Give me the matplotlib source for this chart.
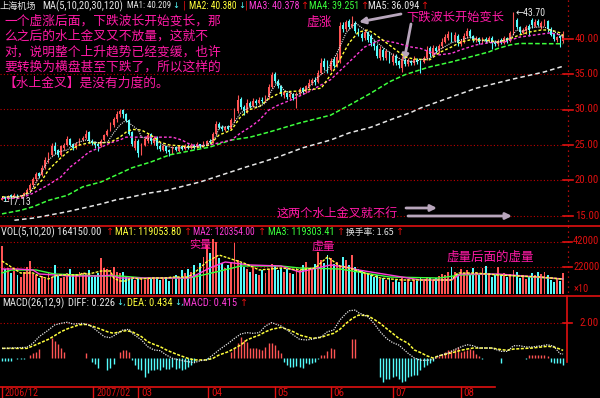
import matplotlib
matplotlib.use("Agg")
import matplotlib.pyplot as plt
from matplotlib import font_manager
from matplotlib.lines import Line2D
import numpy as np

W, H = 600, 398

# ------------------------------------------------------------------ data
open_ = [17.3, 17.7, 17.4, 17.9, 17.7, 18.0, 17.8, 17.9, 18.2, 18.6,
         19.3, 20.2, 21.0, 20.8, 21.9, 22.9, 23.6, 24.9, 24.3, 23.6,
         24.6, 25.0, 25.8, 25.1, 24.7, 25.2, 25.7, 26.0, 26.8, 25.6,
         25.3, 25.1, 24.9, 25.7, 26.4, 27.1, 27.8, 28.6, 29.3, 29.9,
         29.3, 28.5, 26.8, 24.6, 25.5, 23.9, 25.0, 25.5, 26.6, 25.3,
         26.0, 24.9, 24.3, 24.8, 24.3, 24.0, 24.7, 24.2, 24.8, 24.4,
         24.9, 24.6, 25.0, 24.7, 25.1, 24.8, 25.2, 25.6, 25.4, 26.6,
         28.0, 27.6, 27.1, 27.6, 27.3, 28.5, 29.8, 31.5, 30.4, 29.7,
         30.9, 30.5, 31.2, 30.9, 31.4, 31.2, 31.7, 33.2, 35.0, 34.0,
         33.3, 32.0, 32.3, 31.8, 32.2, 31.4, 32.3, 33.0, 32.5, 33.1,
         33.8, 34.2, 33.9, 35.2, 36.8, 36.4, 35.6, 37.0, 36.2, 36.9,
         41.9, 41.4, 42.4, 41.7, 42.2, 41.2, 40.6, 40.1, 40.9, 40.3,
         39.4, 38.9, 37.3, 38.4, 37.2, 38.0, 36.7, 37.5, 36.8, 35.9,
         36.9, 36.4, 36.8, 36.5, 37.0, 36.8, 36.7, 37.2, 38.6, 37.7,
         38.7, 38.2, 38.9, 39.5, 40.1, 40.7, 39.7, 40.4, 39.2, 39.5,
         40.3, 41.0, 40.3, 39.8, 40.0, 39.5, 39.9, 39.7, 40.1, 39.5,
         39.2, 39.8, 39.4, 40.1, 39.7, 40.7, 42.6, 41.6, 40.8, 41.0,
         41.7, 42.6, 41.8, 42.5, 41.6, 42.0, 42.4, 41.4, 40.6, 39.8, 40.3, 39.6]
high = [17.8, 17.8, 17.9, 18.1, 18.2, 18.1, 18.0, 18.4, 18.9, 19.6,
        20.5, 21.2, 21.2, 22.2, 23.3, 24.0, 25.3, 25.4, 24.5, 25.0,
        25.3, 26.2, 26.0, 25.3, 25.4, 26.0, 26.3, 27.1, 26.9, 25.9,
        25.6, 25.3, 25.8, 26.6, 27.3, 28.2, 28.9, 29.8, 30.1, 30.0,
        29.5, 28.7, 27.0, 26.0, 25.8, 25.3, 26.1, 26.7, 26.7, 26.2,
        26.3, 25.1, 25.1, 24.9, 24.4, 24.8, 24.9, 25.0, 25.0, 25.2,
        25.1, 25.3, 25.1, 25.4, 25.2, 25.5, 25.7, 25.8, 26.8, 28.4,
        28.3, 27.8, 27.7, 27.8, 28.8, 30.2, 32.0, 31.7, 30.6, 31.5,
        31.2, 31.6, 31.5, 31.7, 31.7, 32.0, 33.6, 35.3, 35.3, 34.3,
        33.5, 32.6, 32.5, 32.6, 32.3, 32.5, 33.2, 33.1, 33.5, 34.3,
        34.5, 34.6, 35.6, 37.2, 37.2, 36.9, 37.2, 37.4, 38.0, 42.3,
        42.3, 42.6, 42.8, 43.2, 42.4, 41.5, 40.9, 41.3, 41.1, 40.6,
        39.8, 39.2, 38.9, 38.6, 38.5, 38.2, 37.9, 37.8, 37.0, 37.5,
        37.2, 37.3, 37.0, 37.5, 37.2, 37.0, 37.6, 38.9, 39.0, 39.1,
        38.9, 39.2, 40.0, 40.6, 41.1, 40.9, 40.9, 40.6, 39.9, 40.8,
        41.5, 41.3, 40.5, 40.3, 40.2, 40.2, 40.2, 40.4, 40.3, 39.8,
        39.9, 40.0, 40.3, 40.2, 41.1, 43.7, 42.9, 41.8, 41.5, 41.9,
        42.0, 42.9, 42.7, 42.7, 42.5, 42.8, 42.6, 41.6, 40.8, 40.4, 40.5, 41.1]
low = [17.2, 17.13, 17.3, 17.6, 17.6, 17.7, 17.6, 17.8, 18.1, 18.5,
       19.1, 19.9, 20.3, 20.6, 21.6, 22.5, 23.4, 23.8, 23.3, 23.4,
       24.3, 24.8, 24.8, 24.3, 24.5, 25.0, 25.5, 25.8, 25.3, 25.0,
       24.6, 24.2, 24.7, 25.5, 26.2, 26.9, 27.5, 28.3, 29.0, 28.8,
       28.2, 26.4, 24.9, 24.3, 23.3, 23.6, 24.8, 25.3, 25.2, 25.0,
       24.5, 24.1, 24.1, 23.9, 23.5, 23.8, 24.1, 24.0, 24.3, 24.3,
       24.4, 24.5, 24.5, 24.6, 24.6, 24.7, 25.0, 25.2, 25.3, 26.4,
       27.3, 26.9, 27.0, 27.1, 27.2, 28.3, 29.5, 30.1, 29.2, 29.5,
       30.2, 30.3, 30.6, 30.8, 30.9, 31.0, 31.5, 33.0, 33.7, 33.0,
       31.9, 31.6, 31.5, 31.5, 31.3, 30.2, 32.1, 32.2, 32.3, 32.9,
       33.5, 33.5, 33.8, 35.0, 35.6, 35.1, 35.4, 35.9, 36.0, 36.5,
       40.9, 41.0, 41.3, 41.5, 40.8, 40.4, 39.6, 39.8, 39.5, 38.9,
       38.4, 37.3, 37.0, 37.0, 36.9, 36.5, 36.3, 36.3, 35.8, 35.3,
       36.1, 36.1, 36.3, 36.3, 36.4, 35.1, 36.5, 37.0, 37.4, 37.5,
       37.9, 38.0, 38.7, 39.3, 39.8, 39.5, 39.5, 38.9, 39.0, 39.3,
       40.0, 40.1, 39.5, 39.5, 39.2, 39.4, 39.3, 39.5, 38.5, 38.9,
       38.9, 39.2, 39.2, 39.4, 39.5, 40.5, 41.3, 40.6, 40.6, 40.7,
       40.3, 41.5, 41.6, 41.7, 41.4, 41.8, 40.9, 40.3, 39.6, 39.5, 38.8, 39.4]
close = [17.6, 17.4, 17.8, 17.7, 18.0, 17.8, 17.9, 18.2, 18.6, 19.3,
         20.2, 20.9, 20.6, 21.8, 22.9, 23.6, 24.8, 24.1, 23.6, 24.8,
         25.0, 25.9, 25.0, 24.6, 25.2, 25.8, 26.0, 26.6, 25.5, 25.3,
         25.0, 24.8, 25.6, 26.4, 27.0, 27.8, 28.6, 29.4, 29.8, 29.3,
         28.5, 26.6, 25.1, 25.6, 23.9, 25.0, 25.8, 26.4, 25.5, 26.0,
         24.8, 24.4, 24.9, 24.2, 24.0, 24.6, 24.3, 24.8, 24.5, 24.9,
         24.6, 25.0, 24.7, 25.1, 24.8, 25.2, 25.5, 25.4, 26.6, 28.0,
         27.6, 27.2, 27.5, 27.3, 28.5, 29.8, 31.4, 30.3, 29.8, 30.9,
         30.5, 31.2, 30.9, 31.4, 31.2, 31.6, 33.2, 34.8, 34.0, 33.3,
         32.2, 32.4, 31.8, 32.2, 31.6, 32.3, 32.9, 32.5, 33.3, 33.8,
         34.1, 33.9, 35.2, 36.6, 36.0, 35.6, 36.8, 36.1, 37.4, 41.8,
         41.3, 42.3, 41.6, 42.0, 41.0, 40.8, 40.0, 40.9, 39.8, 39.3,
         38.9, 37.6, 38.5, 37.4, 38.2, 36.8, 37.6, 36.6, 36.2, 36.9,
         36.4, 36.9, 36.5, 37.1, 36.7, 36.6, 37.3, 38.2, 37.8, 38.6,
         38.3, 38.9, 39.5, 40.2, 40.6, 39.8, 40.5, 39.3, 39.6, 40.3,
         41.0, 40.4, 39.8, 40.0, 39.5, 39.9, 39.7, 40.1, 39.4, 39.2,
         39.7, 39.4, 40.0, 39.6, 40.8, 42.5, 41.6, 40.9, 41.2, 41.6,
         41.2, 41.9, 42.3, 41.9, 42.2, 42.5, 41.3, 40.5, 39.9, 40.2, 40.0, 40.45]
# volume in thousands of lots (axis labels are x10)
volume_k = [384, 200, 208, 170, 181, 150, 140, 175, 215, 265,
            160, 150, 130, 145, 120, 165, 140, 230, 150, 130,
            140, 170, 200, 150, 160, 175, 170, 165, 190, 140,
            150, 170, 288, 210, 200, 190, 220, 175, 165, 180,
            140, 130, 120, 110, 135, 125, 115, 140, 130, 120,
            135, 110, 125, 140, 105, 120, 150, 130, 190, 170,
            200, 180, 230, 160, 250, 300, 392, 330, 440, 420,
            290, 250, 210, 230, 260, 408, 270, 248, 220, 200,
            180, 210, 160, 150, 190, 170, 200, 240, 230, 190,
            210, 180, 200, 170, 160, 215, 190, 230, 260, 210,
            200, 240, 336, 272, 250, 312, 290, 240, 260, 220,
            300, 272, 230, 312, 220, 200, 190, 170, 160, 150,
            140, 150, 120, 130, 110, 125, 100, 115, 95, 140,
            100, 120, 95, 110, 105, 130, 120, 140, 125, 110,
            130, 145, 160, 150, 175, 216, 180, 160, 200, 170,
            190, 150, 210, 180, 150, 208, 224, 170, 140, 160,
            216, 150, 170, 140, 160, 190, 180, 130, 150, 120,
            140, 170, 150, 180, 160, 175, 150, 110, 95, 120, 106, 164.15]
macd_hist = [-0.15, -0.15, -0.15, -0.15, 0, -0.05, -0.05, -0.05, 0, 0.17,
             0.27, 0.36, 0.5, 0, 0, 0, 1.13, 1.0, 0.8, 0.6,
             0.33, 0, 0, 0, 0, 0, 0, 0.3, 0, -0.22,
             -0.32, -0.57, 0, 0, -0.7, -0.55, -0.36, 0, 0.33, 0.47,
             0.47, 0.33, -0.1, -0.4, -0.6, -0.7, -1.1, -0.88, -0.7, -0.7,
             -0.6, -0.7, -0.53, -0.6, -0.65, -0.5, -0.6, -0.55, -0.7, -0.6,
             -0.5, -0.4, -0.2, 0, 0, 0, -0.05, -0.05, 0, 0,
             0, 0, 0, 0, 0.36, 0.55, 0.84, 1.22, 1.03, 0.93,
             0.55, 0.55, 0.55, 0.5, 0.46, 0.65, 0.84, 0.88, 0.74, 0.46,
             0.27, -0.21, -0.4, -0.5, -0.53, -0.46, -0.5, -0.59, -0.3, -0.34,
             -0.3, -0.21, -0.06, 0.17, 0.17, 0.4, 0.55, 0.5, 0, 0,
             0, 0, 0, 1.07, 1.07, 0, 0, 0, 0, 0,
             0, 0, -1.1, -1.35, -1.22, -1.22, -1.1, -1.03, -1.22, -1.35,
             -1.29, -1.1, -1.03, -0.97, -0.97, -0.69, -0.53, -0.4, -0.3, -0.15,
             0.06, 0.11, 0.25, 0.34, 0.44, 0.44, 0.53, 0.63, 0.34, 0.4,
             0.44, 0.53, 0.44, 0.25, 0.1, -0.05, 0, 0, 0, 0,
             0, -0.3, 0, 0, 0, 0, 0, 0, 0, -0.03,
             0.15, 0.15, 0.15, 0.17, 0.15, 0.15, 0.12, -0.2, -0.3, -0.3, -0.3, -0.415]

# moving-average lines (day index, value)
ma5_idx = [0, 6, 9, 12, 15, 18, 21, 24, 27, 31, 34, 36, 38, 40, 41, 44, 45, 49, 52, 55,
           58, 63, 66, 69, 70, 74, 77, 80, 83, 85, 87, 89, 91, 95, 98, 102, 105, 108, 111, 114,
           117, 120, 123, 126, 129, 133, 135, 138, 141, 145, 148, 151, 154, 157, 160, 164, 166, 168, 171, 175,
           178, 181]
ma5_val = [17.6, 17.8, 18.2, 20.5, 22.9, 24.0, 24.3, 25.3, 25.7, 25.3, 25.4, 26.7, 27.8, 28.5, 28.1, 27.1, 26.1, 25.7, 25.0, 24.6,
           24.6, 24.8, 25.0, 26.1, 27.5, 27.6, 29.5, 30.4, 30.4, 30.9, 32.7, 33.9, 32.7, 32.0, 32.7, 34.6, 35.6, 37.9, 40.8, 42.2,
           41.2, 39.8, 38.7, 37.7, 37.0, 36.7, 37.0, 37.2, 38.4, 39.4, 39.8, 40.2, 39.8, 39.5, 39.5, 40.0, 41.2, 41.0, 41.6, 41.6,
           41.0, 40.2]
ma10_idx = [0, 6, 10, 13, 15, 19, 22, 25, 28, 32, 35, 38, 40, 42, 45, 48, 51, 54, 57, 61,
            64, 67, 70, 74, 77, 80, 83, 86, 89, 91, 96, 103, 107, 112, 115, 118, 120, 124, 127, 130,
            133, 138, 141, 145, 148, 151, 154, 157, 160, 164, 167, 170, 174, 177, 180, 181]
ma10_val = [17.7, 17.7, 18.7, 20.1, 21.5, 23.2, 24.3, 25.0, 25.3, 25.3, 25.4, 26.1, 26.8, 27.2, 27.1, 26.4, 25.4, 25.0, 24.9, 24.7,
            24.7, 25.0, 26.4, 27.1, 29.0, 30.0, 30.4, 31.5, 32.2, 32.5, 32.6, 33.0, 35.5, 39.4, 40.9, 41.2, 40.7, 39.4, 38.4, 37.4,
            37.1, 37.0, 38.0, 38.8, 39.5, 39.8, 39.8, 39.7, 39.5, 40.0, 40.5, 40.9, 41.2, 41.2, 40.8, 40.4]
ma20_idx = [0, 6, 10, 15, 19, 22, 25, 28, 32, 35, 38, 40, 45, 55, 58, 61, 64, 67, 70, 74,
            77, 80, 83, 86, 89, 93, 99, 106, 112, 117, 122, 127, 132, 135, 138, 141, 145, 148, 153, 157,
            162, 167, 172, 177, 181]
ma20_val = [17.5, 17.5, 18.2, 19.4, 20.5, 21.9, 22.9, 24.0, 24.7, 25.3, 25.7, 26.1, 26.1, 26.1, 25.7, 25.0, 24.9, 25.0, 25.3, 25.7,
            26.7, 27.5, 28.5, 29.9, 30.6, 31.3, 32.5, 34.2, 36.7, 38.8, 39.8, 39.4, 38.8, 38.6, 38.1, 37.7, 37.9, 38.4, 39.1, 39.4,
            39.5, 40.2, 40.5, 40.8, 40.4]
ma30_idx = [0, 6, 10, 15, 21, 26, 32, 37, 42, 48, 54, 61, 67, 74, 80, 86, 96, 106, 112, 119,
            125, 130, 135, 138, 145, 151, 157, 160, 164, 167, 181]
ma30_val = [15.3, 15.8, 16.3, 17.2, 17.9, 19.1, 19.8, 20.8, 21.8, 22.6, 23.6, 24.2, 24.7, 25.7, 26.1, 26.8, 28.1, 29.2, 30.6, 32.3,
            33.9, 34.9, 35.6, 36.0, 36.7, 37.4, 38.1, 38.6, 39.1, 39.3, 39.25]
ma120_idx = [4, 10, 15, 21, 26, 32, 37, 42, 47, 53, 64, 78, 84, 89, 97, 106, 112, 119, 125, 132,
             135, 142, 153, 164, 175, 181]
ma120_val = [14.4, 14.7, 15.1, 15.6, 16.1, 16.7, 17.3, 17.7, 18.2, 18.6, 19.8, 21.8, 22.6, 23.3, 24.6, 25.7, 26.7, 27.5, 28.5, 29.6,
             30.2, 31.3, 33.0, 34.2, 35.3, 36.09]

vma5_idx = [0, 4, 6, 10, 12, 15, 17, 19, 25, 26, 28, 32, 35, 36, 38, 40, 42, 45, 49, 53,
            55, 60, 62, 66, 70, 75, 78, 83, 90, 96, 101, 105, 109, 112, 117, 122, 129, 138, 145, 147,
            153, 160, 167, 174, 181]
vma5_val = [264, 200, 168, 168, 144, 120, 144, 152, 152, 168, 160, 184, 184, 128, 104, 104, 128, 120, 128, 128,
            136, 136, 168, 256, 312, 272, 248, 192, 208, 192, 208, 296, 224, 208, 168, 128, 112, 112, 112, 168,
            168, 152, 144, 136, 119.05]
vma10_idx = [0, 5, 10, 12, 17, 22, 32, 35, 38, 45, 48, 60, 62, 67, 72, 80, 90, 96, 106, 111,
             115, 125, 135, 145, 148, 160, 181]
vma10_val = [200, 200, 192, 160, 152, 144, 144, 150, 128, 128, 128, 128, 144, 208, 256, 232, 224, 176, 232, 216,
             192, 152, 112, 112, 160, 160, 120.35]
vma20_idx = [0, 3, 11, 17, 32, 38, 46, 60, 62, 69, 77, 90, 96, 109, 115, 125, 141, 148, 157, 181]
vma20_val = [168, 192, 192, 160, 144, 144, 128, 128, 136, 176, 224, 224, 208, 200, 176, 136, 128, 152, 160, 119.3]

dif_idx = [0, 8, 10, 12, 15, 17, 19, 21, 23, 26, 28, 29, 31, 33, 35, 37, 39, 41, 42, 45,
           47, 49, 51, 53, 55, 57, 60, 62, 64, 66, 68, 70, 73, 75, 77, 79, 81, 83, 85, 87,
           90, 92, 94, 96, 98, 100, 103, 105, 107, 109, 111, 112, 114, 115, 118, 120, 122, 124, 126, 128,
           131, 133, 135, 137, 139, 141, 144, 146, 148, 150, 152, 154, 156, 158, 161, 163, 165, 167, 169, 171,
           174, 176, 178, 180, 181]
dif_val = [0.55, 0.61, 0.84, 1.22, 1.6, 1.89, 1.98, 2.04, 1.94, 1.98, 1.89, 1.79, 1.5, 1.22, 1.16, 1.37, 1.6, 1.64, 1.41, 1.03,
           0.65, 0.46, 0.42, 0.17, -0.02, -0.11, -0.21, -0.27, -0.15, -0.11, 0.17, 0.46, 0.84, 1.12, 1.37, 1.45, 1.41, 1.45, 1.83, 2.02,
           1.83, 1.6, 1.31, 1.07, 1.03, 1.07, 1.22, 1.5, 1.6, 2.17, 2.55, 2.7, 2.74, 2.59, 2.36, 1.98, 1.5, 1.12, 0.88, 0.74,
           0.27, 0.0, -0.13, -0.13, -0.09, 0.13, 0.29, 0.48, 0.63, 0.76, 0.7, 0.57, 0.57, 0.57, 0.38, 0.38, 0.7, 0.7, 0.63, 0.63,
           0.7, 0.76, 0.67, 0.25, 0.226]
dea_idx = [0, 8, 10, 12, 15, 17, 19, 21, 23, 25, 27, 29, 32, 34, 36, 38, 40, 42, 45, 47,
           49, 51, 53, 55, 57, 60, 62, 66, 68, 70, 73, 75, 77, 79, 81, 83, 85, 87, 90, 92,
           94, 96, 98, 100, 103, 105, 107, 109, 111, 113, 115, 118, 120, 122, 124, 126, 128, 131, 133, 135,
           137, 139, 141, 144, 146, 148, 150, 152, 158, 161, 163, 165, 171, 174, 176, 178, 180, 181]
dea_val = [0.55, 0.55, 0.69, 0.84, 1.07, 1.28, 1.5, 1.66, 1.79, 1.9, 1.92, 1.83, 1.64, 1.5, 1.41, 1.5, 1.56, 1.5, 1.22, 0.93,
           0.78, 0.65, 0.46, 0.31, 0.17, -0.02, -0.11, -0.11, -0.02, 0.17, 0.36, 0.55, 0.74, 1.03, 1.18, 1.31, 1.5, 1.64, 1.75, 1.64,
           1.5, 1.31, 1.22, 1.12, 1.18, 1.31, 1.41, 1.64, 1.98, 2.26, 2.45, 2.42, 2.21, 1.98, 1.69, 1.41, 1.12, 0.84, 0.46, 0.31,
           0.13, 0.0, 0.13, 0.25, 0.34, 0.44, 0.51, 0.57, 0.57, 0.48, 0.44, 0.51, 0.57, 0.63, 0.67, 0.63, 0.51, 0.434]

date_idx = [0, 29.5, 44, 66.5, 88, 106, 126, 148]
date_labels = ["2006/12", "2007/02", "03", "04", "05", "06", "07", "08"]
price_ticks = [40, 35, 30, 25, 20, 15]
vol_ticks_k = [420, 220]
vol_tick_labels = ["42000", "22000"]
macd_ticks = [2.0]

# ------------------------------------------------------------------ fonts
fl = font_manager.fontManager.ttflist
names = {f.name for f in fl}
LAT, STRETCH = None, 'normal'
for cand in ['Liberation Sans Narrow', 'DejaVu Sans Condensed', 'Roboto Condensed',
             'Open Sans Condensed', 'Noto Sans Condensed', 'Arial Narrow']:
    if cand in names:
        LAT = cand
        break
if LAT is None:
    for fam in ['DejaVu Sans', 'Noto Sans', 'Open Sans', 'Roboto']:
        if any(f.name == fam and str(f.stretch) in ('condensed', 'semi-condensed', '87', '75')
               and f.style == 'normal' for f in fl):
            LAT, STRETCH = fam, 'condensed'
            break
if LAT is None:
    LAT = 'Liberation Sans' if 'Liberation Sans' in names else 'DejaVu Sans'
CJK = 'Noto Sans CJK SC'

RED = '#FF5454'
CYAN = '#54FCFC'
AXRED = '#E01010'
YEL = '#FFFF3C'
MAG = '#FF3CD8'
GRN = '#3CFF3C'
WHT = '#E6E6E6'
PINK = '#FF1AA6'
ARW = '#B8A6BC'

fig = plt.figure(figsize=(6, 3.98), dpi=100, facecolor='black')
renderer = fig.canvas.get_renderer()
XL = (-0.645, 181.94)


def add_ax(x0, y0, x1, y1):
    ax = fig.add_axes([x0 / W, 1 - y1 / H, (x1 - x0) / W, (y1 - y0) / H])
    ax.set_facecolor('black')
    ax.set_axis_off()
    ax.set_xlim(*XL)
    return ax


def txt(x, y, s, color, size=7.6, family=None, ha='left', va='center', width=None, **kw):
    if family is None:
        fam = [LAT, 'DejaVu Sans']
        kw.setdefault('fontstretch', STRETCH)
    else:
        fam = family
    t = fig.text(x / W, 1 - y / H, s, color=color, fontsize=size, family=fam,
                 ha=ha, va=va, **kw)
    if width is not None:
        wpx = t.get_window_extent(renderer).width
        if wpx > width:
            t.set_fontsize(size * width / wpx)
    return t


def fline(x0, y0, x1, y1, color=AXRED, lw=1.2, ls='-'):
    fig.add_artist(Line2D([x0 / W, x1 / W], [1 - y0 / H, 1 - y1 / H],
                          transform=fig.transFigure, color=color, lw=lw, ls=ls))


ax_p = add_ax(0, 0, 566, 226)
ax_p.set_ylim(13.59, 45.42)
ax_v = add_ax(0, 226, 566, 296)
ax_v.set_ylim(-16, 544)
ax_m = add_ax(0, 296, 566, 387)
ax_m.set_ylim(-1.657, 3.543)

o = np.array(open_); c = np.array(close); hi = np.array(high); lo = np.array(low)
idx = np.arange(len(c))
cols = np.where(c >= o, RED, CYAN)

# grid lines
DOT = (0, (1, 2))
for p in [35, 30, 25, 20, 15]:
    ax_p.axhline(p, color='#C00000', lw=0.8, ls=DOT, zorder=0)
for v in vol_ticks_k:
    ax_v.axhline(v, color='#C00000', lw=0.8, ls=DOT, zorder=0)
for m in macd_ticks:
    ax_m.axhline(m, color='#C00000', lw=0.8, ls=DOT, zorder=0)

# candles
ax_p.vlines(idx, lo, hi, colors=cols, lw=0.8, zorder=2)
ax_p.bar(idx, np.maximum(np.abs(c - o), 0.06), bottom=np.minimum(o, c), width=0.62,
         color=cols, lw=0, zorder=3)

# moving averages
ax_p.plot(ma120_idx, ma120_val, color=WHT, lw=1.1, ls=(0, (3, 2)), zorder=4)
ax_p.plot(ma30_idx, ma30_val, color=GRN, lw=1.1, ls=(0, (3, 1.5)), zorder=4)
ax_p.plot(ma20_idx, ma20_val, color=MAG, lw=1.0, ls=(0, (2, 1.5)), zorder=4)
ax_p.plot(ma10_idx, ma10_val, color=YEL, lw=1.0, ls=(0, (2, 1.5)), zorder=4)
ax_p.plot(ma5_idx, ma5_val, color=WHT, lw=0.8, ls=(0, (1, 1)), zorder=4)

# volume
ax_v.bar(idx, volume_k, width=0.62, color=cols, lw=0, zorder=2)
ax_v.plot(vma20_idx, vma20_val, color=GRN, lw=1.0, zorder=3)
ax_v.plot(vma10_idx, vma10_val, color=MAG, lw=1.0, zorder=3)
ax_v.plot(vma5_idx, vma5_val, color=YEL, lw=1.0, ls=(0, (2, 1)), zorder=3)

# MACD
hh = np.array(macd_hist)
ax_m.vlines(idx, 0, hh, colors=np.where(hh >= 0, RED, CYAN), lw=1.0, zorder=2)
ax_m.plot(dea_idx, dea_val, color=YEL, lw=1.1, ls=(0, (2, 1)), zorder=3)
ax_m.plot(dif_idx, dif_val, color=WHT, lw=0.9, ls=(0, (1, 1)), zorder=3)

# frame lines
fline(0, 226, 600, 226)
fline(0, 296, 600, 296)
fline(0, 387, 495, 387)
fline(568, 0, 568, 226, color=AXRED, lw=0.9, ls=(0, (1, 3)))
fline(568, 226, 568, 296, color=AXRED, lw=0.9, ls=(0, (1, 3)))
fline(567, 296, 567, 362, color=AXRED, lw=1.2)

# right axis labels
for p in price_ticks:
    y = 74 + (35 - p) * 7.1
    fline(563, y, 573, y, lw=1.2)
    txt(575, y, f"{p:.2f}", AXRED, size=8.5, width=24)
for v, lab in zip(vol_ticks_k, vol_tick_labels):
    y = 294 - v / 8.0
    fline(563, y, 572, y, lw=1.2)
    txt(573, y, lab, AXRED, size=8.5, width=26)
txt(574, 289, "×10", AXRED, size=7.5, width=18)
fline(563, 323, 572, 323, lw=1.2)
txt(579, 323, "2.00", AXRED, size=8.5, width=19)

# date axis
for di, lab in zip(date_idx, date_labels):
    xpx = (di - XL[0]) / (XL[1] - XL[0]) * 566
    fline(xpx, 387, xpx, 398, lw=1.0)
    txt(xpx + 3, 393, lab, AXRED, size=8.0, width=None if len(lab) < 3 else 34)

# headers
hy = 6
ARF = 'DejaVu Sans'
txt(0, hy, "上海机场", WHT, size=6.8, family=[CJK, 'DejaVu Sans'], width=37)
txt(42, hy, "MA(5,10,20,30,120)", WHT, width=81)
txt(127, hy, "MA1: 40.209", WHT, width=44)
txt(172, hy, "↓", CYAN, size=6.0, family=ARF)
txt(183, hy, "|", AXRED, size=8)
txt(189, hy, "MA2: 40.380", YEL, width=48)
txt(238, hy, "↓", CYAN, size=6.0, family=ARF)
txt(245, hy, "|", AXRED, size=8)
txt(249, hy, "MA3: 40.378", MAG, width=50)
txt(301, hy, "↑", AXRED, size=7, family=ARF)
txt(309, hy, "MA4: 39.251", GRN, width=50)
txt(361, hy, "↑", AXRED, size=7, family=ARF)
txt(368, hy, "MA5: 36.094", WHT, width=51)
txt(421, hy, "↑", AXRED, size=7, family=ARF)

vy = 232
txt(1, vy, "VOL(5,10,20) 164150.00", WHT, width=102)
txt(106, vy, "↑", AXRED, size=7, family=ARF)
txt(115, vy, "MA1: 119053.80", YEL, width=66)
txt(184, vy, "↑", AXRED, size=7, family=ARF)
txt(193, vy, "MA2: 120354.00", MAG, width=62)
txt(258, vy, "↑", AXRED, size=7, family=ARF)
txt(268, vy, "MA3: 119303.41", GRN, width=66)
txt(337, vy, "↑", AXRED, size=7, family=ARF)
txt(346, vy, "换手率: 1.65", WHT, size=7, family=[CJK, 'DejaVu Sans'], width=48)
txt(396, vy, "↑", AXRED, size=7, family=ARF)

my = 303
txt(2, my, "MACD(26,12,9)", WHT, width=62)
txt(68, my, "DIFF: 0.226", WHT, width=47)
txt(116, my, "↓,", CYAN, size=6.0, family=ARF)
txt(127, my, "DEA: 0.434", YEL, width=46)
txt(174, my, "↓,", CYAN, size=6.0, family=ARF)
txt(183, my, "MACD: 0.415", MAG, width=56)
txt(240, my, "↑", AXRED, size=7, family=ARF)

# extreme labels
txt(516, 13, "←43.70", WHT, size=7.0, width=35)
txt(2, 202, "—17.13", WHT, size=7.0, width=34)

# annotations
CJKF = [CJK, 'DejaVu Sans']
lines = ["一个虚涨后面，下跌波长开始变长，那",
         "么之后的水上金叉又不放量，这就不",
         "对，说明整个上升趋势已经变缓，也许",
         "要转换为横盘甚至下跌了，所以这样的",
         "【水上金叉】是没有力度的。"]
for k, s in enumerate(lines):
    txt(4, 21 + k * 15.4, s, PINK, size=9.2, family=CJKF)
txt(306, 22, "虚涨", PINK, size=9.2, family=CJKF)
txt(406, 17, "下跌波长开始变长", PINK, size=8.8, family=CJKF)
txt(277, 213, "这两个水上金叉就不行", PINK, size=8.7, family=CJKF)
txt(189, 245, "实量", PINK, size=8.0, family=CJKF)
txt(311, 246, "虚量", PINK, size=8.5, family=CJKF)
txt(446, 257, "虚量后面的虚量", PINK, size=9.0, family=CJKF)


def arrow(x0, y0, x1, y1):
    ax_p.annotate('', xy=(x1, H - y1), xytext=(x0, H - y0),
                  xycoords='figure pixels', textcoords='figure pixels',
                  annotation_clip=False,
                  arrowprops=dict(arrowstyle='-|>', color=ARW, lw=2.0,
                                  mutation_scale=9, shrinkA=0, shrinkB=0))


arrow(401, 14, 359, 22)
arrow(411, 24, 404, 61)
arrow(406, 208, 437, 208)
arrow(408, 216, 512, 216)

fig.savefig("out.png", dpi=100, facecolor='black')
